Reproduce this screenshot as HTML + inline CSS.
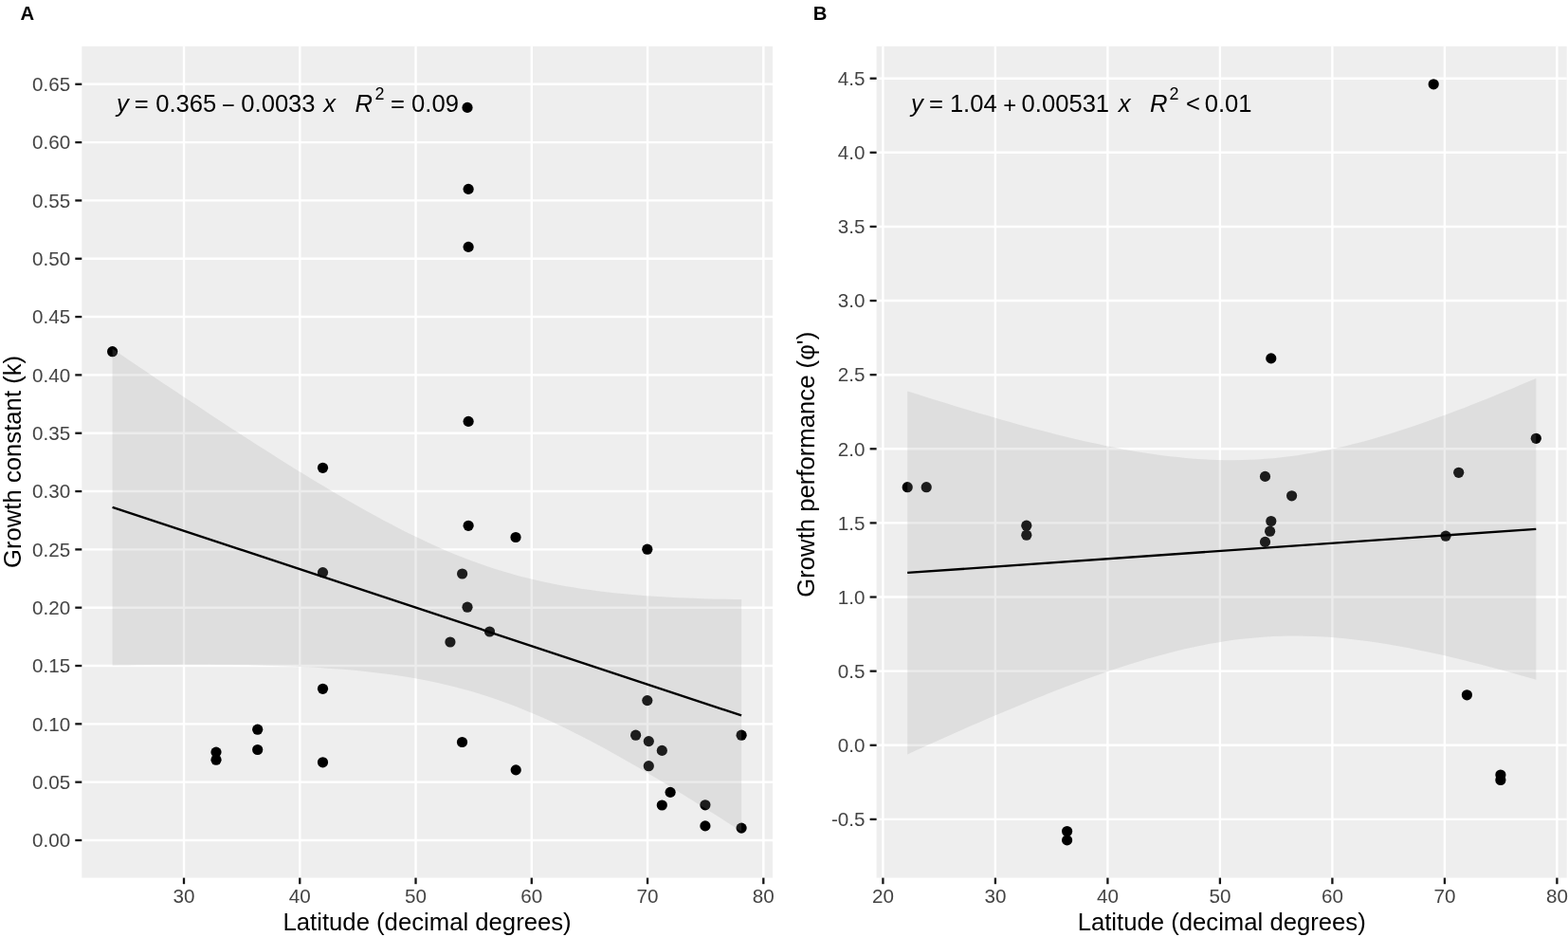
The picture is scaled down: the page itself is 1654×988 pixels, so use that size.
<!DOCTYPE html>
<html><head><meta charset="utf-8"><title>Growth vs latitude</title><style>html,body{margin:0;padding:0;background:#fff;overflow:hidden;}
svg{display:block;}
text{font-family:"Liberation Sans",Arial,sans-serif;}
.tk{font-size:20.6px;fill:#444444;}
.eq{font-size:25.6px;fill:#000;}
.sup{font-size:17.9px;fill:#000;}
.ti{font-size:25.7px;fill:#000;}
.lab{font-size:20.3px;font-weight:bold;fill:#000;}</style></head><body>
<svg width="1654" height="988" viewBox="0 0 1654 988">
<rect width="1654" height="988" fill="#fff"/>
<rect x="86.3" y="48.8" width="728.7" height="876.8" fill="#EEEEEE"/>
<line x1="86.3" x2="815.0" y1="886.00" y2="886.00" stroke="#fff" stroke-width="2.4"/>
<line x1="86.3" x2="815.0" y1="824.67" y2="824.67" stroke="#fff" stroke-width="2.4"/>
<line x1="86.3" x2="815.0" y1="763.35" y2="763.35" stroke="#fff" stroke-width="2.4"/>
<line x1="86.3" x2="815.0" y1="702.02" y2="702.02" stroke="#fff" stroke-width="2.4"/>
<line x1="86.3" x2="815.0" y1="640.70" y2="640.70" stroke="#fff" stroke-width="2.4"/>
<line x1="86.3" x2="815.0" y1="579.38" y2="579.38" stroke="#fff" stroke-width="2.4"/>
<line x1="86.3" x2="815.0" y1="518.05" y2="518.05" stroke="#fff" stroke-width="2.4"/>
<line x1="86.3" x2="815.0" y1="456.73" y2="456.73" stroke="#fff" stroke-width="2.4"/>
<line x1="86.3" x2="815.0" y1="395.40" y2="395.40" stroke="#fff" stroke-width="2.4"/>
<line x1="86.3" x2="815.0" y1="334.07" y2="334.07" stroke="#fff" stroke-width="2.4"/>
<line x1="86.3" x2="815.0" y1="272.75" y2="272.75" stroke="#fff" stroke-width="2.4"/>
<line x1="86.3" x2="815.0" y1="211.42" y2="211.42" stroke="#fff" stroke-width="2.4"/>
<line x1="86.3" x2="815.0" y1="150.10" y2="150.10" stroke="#fff" stroke-width="2.4"/>
<line x1="86.3" x2="815.0" y1="88.77" y2="88.77" stroke="#fff" stroke-width="2.4"/>
<line x1="194.00" x2="194.00" y1="48.8" y2="925.6" stroke="#fff" stroke-width="2.4"/>
<line x1="316.26" x2="316.26" y1="48.8" y2="925.6" stroke="#fff" stroke-width="2.4"/>
<line x1="438.52" x2="438.52" y1="48.8" y2="925.6" stroke="#fff" stroke-width="2.4"/>
<line x1="560.78" x2="560.78" y1="48.8" y2="925.6" stroke="#fff" stroke-width="2.4"/>
<line x1="683.04" x2="683.04" y1="48.8" y2="925.6" stroke="#fff" stroke-width="2.4"/>
<line x1="805.30" x2="805.30" y1="48.8" y2="925.6" stroke="#fff" stroke-width="2.4"/>
<circle cx="118.60" cy="370.70" r="5.6"/>
<circle cx="228.00" cy="793.10" r="5.6"/>
<circle cx="228.00" cy="801.20" r="5.6"/>
<circle cx="271.70" cy="769.20" r="5.6"/>
<circle cx="271.70" cy="790.50" r="5.6"/>
<circle cx="340.50" cy="493.30" r="5.6"/>
<circle cx="340.50" cy="603.60" r="5.6"/>
<circle cx="340.50" cy="726.30" r="5.6"/>
<circle cx="340.50" cy="803.80" r="5.6"/>
<circle cx="474.90" cy="677.00" r="5.6"/>
<circle cx="487.60" cy="605.00" r="5.6"/>
<circle cx="487.50" cy="782.50" r="5.6"/>
<circle cx="493.00" cy="113.40" r="5.6"/>
<circle cx="494.10" cy="199.40" r="5.6"/>
<circle cx="494.10" cy="260.40" r="5.6"/>
<circle cx="494.10" cy="444.40" r="5.6"/>
<circle cx="494.10" cy="554.30" r="5.6"/>
<circle cx="493.00" cy="640.20" r="5.6"/>
<circle cx="516.50" cy="666.00" r="5.6"/>
<circle cx="544.00" cy="566.50" r="5.6"/>
<circle cx="544.20" cy="811.90" r="5.6"/>
<circle cx="670.60" cy="775.20" r="5.6"/>
<circle cx="682.80" cy="579.20" r="5.6"/>
<circle cx="682.80" cy="738.60" r="5.6"/>
<circle cx="684.30" cy="781.60" r="5.6"/>
<circle cx="684.30" cy="807.70" r="5.6"/>
<circle cx="698.30" cy="791.40" r="5.6"/>
<circle cx="698.30" cy="849.00" r="5.6"/>
<circle cx="707.10" cy="835.40" r="5.6"/>
<circle cx="743.90" cy="848.80" r="5.6"/>
<circle cx="743.90" cy="870.90" r="5.6"/>
<circle cx="782.10" cy="775.20" r="5.6"/>
<circle cx="782.10" cy="873.10" r="5.6"/>
<polygon fill="#999999" fill-opacity="0.19" points="118.60,367.84 127.00,373.55 135.40,379.24 143.80,384.92 152.19,390.59 160.59,396.24 168.99,401.88 177.39,407.51 185.79,413.12 194.19,418.72 202.59,424.30 210.99,429.86 219.38,435.40 227.78,440.92 236.18,446.42 244.58,451.89 252.98,457.34 261.38,462.76 269.78,468.16 278.18,473.52 286.57,478.85 294.97,484.15 303.37,489.41 311.77,494.63 320.17,499.81 328.57,504.94 336.97,510.02 345.37,515.05 353.76,520.02 362.16,524.93 370.56,529.78 378.96,534.55 387.36,539.25 395.76,543.87 404.16,548.41 412.56,552.85 420.95,557.20 429.35,561.44 437.75,565.58 446.15,569.60 454.55,573.50 462.95,577.27 471.35,580.91 479.75,584.41 488.14,587.77 496.54,590.99 504.94,594.06 513.34,596.98 521.74,599.74 530.14,602.36 538.54,604.83 546.94,607.16 555.33,609.33 563.73,611.37 572.13,613.27 580.53,615.04 588.93,616.69 597.33,618.21 605.73,619.62 614.13,620.92 622.52,622.12 630.92,623.22 639.32,624.24 647.72,625.17 656.12,626.01 664.52,626.79 672.92,627.49 681.32,628.13 689.71,628.72 698.11,629.24 706.51,629.71 714.91,630.14 723.31,630.51 731.71,630.85 740.11,631.15 748.51,631.40 756.90,631.63 765.30,631.82 773.70,631.98 782.10,632.12 782.10,876.75 773.70,871.32 765.30,865.93 756.90,860.56 748.51,855.22 740.11,849.92 731.71,844.65 723.31,839.43 714.91,834.24 706.51,829.11 698.11,824.02 689.71,818.98 681.32,814.00 672.92,809.08 664.52,804.22 656.12,799.44 647.72,794.72 639.32,790.09 630.92,785.54 622.52,781.08 614.13,776.72 605.73,772.46 597.33,768.31 588.93,764.27 580.53,760.35 572.13,756.56 563.73,752.90 555.33,749.38 546.94,746.00 538.54,742.76 530.14,739.67 521.74,736.72 513.34,733.93 504.94,731.29 496.54,728.80 488.14,726.45 479.75,724.25 471.35,722.19 462.95,720.27 454.55,718.48 446.15,716.82 437.75,715.28 429.35,713.85 420.95,712.53 412.56,711.32 404.16,710.20 395.76,709.17 387.36,708.23 378.96,707.37 370.56,706.59 362.16,705.87 353.76,705.22 345.37,704.63 336.97,704.10 328.57,703.62 320.17,703.19 311.77,702.80 303.37,702.46 294.97,702.16 286.57,701.89 278.18,701.66 269.78,701.47 261.38,701.30 252.98,701.16 244.58,701.05 236.18,700.96 227.78,700.90 219.38,700.86 210.99,700.84 202.59,700.84 194.19,700.85 185.79,700.89 177.39,700.94 168.99,701.00 160.59,701.08 152.19,701.18 143.80,701.29 135.40,701.40 127.00,701.54 118.60,701.68"/>
<line x1="118.60" y1="534.76" x2="782.10" y2="754.44" stroke="#000" stroke-width="2.35"/>
<line x1="79.30" x2="86.3" y1="886.00" y2="886.00" stroke="#151515" stroke-width="2.3"/>
<text x="74.20" y="893.21" text-anchor="end" class="tk">0.00</text>
<line x1="79.30" x2="86.3" y1="824.67" y2="824.67" stroke="#151515" stroke-width="2.3"/>
<text x="74.20" y="831.88" text-anchor="end" class="tk">0.05</text>
<line x1="79.30" x2="86.3" y1="763.35" y2="763.35" stroke="#151515" stroke-width="2.3"/>
<text x="74.20" y="770.56" text-anchor="end" class="tk">0.10</text>
<line x1="79.30" x2="86.3" y1="702.02" y2="702.02" stroke="#151515" stroke-width="2.3"/>
<text x="74.20" y="709.24" text-anchor="end" class="tk">0.15</text>
<line x1="79.30" x2="86.3" y1="640.70" y2="640.70" stroke="#151515" stroke-width="2.3"/>
<text x="74.20" y="647.91" text-anchor="end" class="tk">0.20</text>
<line x1="79.30" x2="86.3" y1="579.38" y2="579.38" stroke="#151515" stroke-width="2.3"/>
<text x="74.20" y="586.59" text-anchor="end" class="tk">0.25</text>
<line x1="79.30" x2="86.3" y1="518.05" y2="518.05" stroke="#151515" stroke-width="2.3"/>
<text x="74.20" y="525.26" text-anchor="end" class="tk">0.30</text>
<line x1="79.30" x2="86.3" y1="456.73" y2="456.73" stroke="#151515" stroke-width="2.3"/>
<text x="74.20" y="463.94" text-anchor="end" class="tk">0.35</text>
<line x1="79.30" x2="86.3" y1="395.40" y2="395.40" stroke="#151515" stroke-width="2.3"/>
<text x="74.20" y="402.61" text-anchor="end" class="tk">0.40</text>
<line x1="79.30" x2="86.3" y1="334.07" y2="334.07" stroke="#151515" stroke-width="2.3"/>
<text x="74.20" y="341.28" text-anchor="end" class="tk">0.45</text>
<line x1="79.30" x2="86.3" y1="272.75" y2="272.75" stroke="#151515" stroke-width="2.3"/>
<text x="74.20" y="279.96" text-anchor="end" class="tk">0.50</text>
<line x1="79.30" x2="86.3" y1="211.42" y2="211.42" stroke="#151515" stroke-width="2.3"/>
<text x="74.20" y="218.63" text-anchor="end" class="tk">0.55</text>
<line x1="79.30" x2="86.3" y1="150.10" y2="150.10" stroke="#151515" stroke-width="2.3"/>
<text x="74.20" y="157.31" text-anchor="end" class="tk">0.60</text>
<line x1="79.30" x2="86.3" y1="88.77" y2="88.77" stroke="#151515" stroke-width="2.3"/>
<text x="74.20" y="95.98" text-anchor="end" class="tk">0.65</text>
<line x1="194.00" x2="194.00" y1="925.6" y2="932.20" stroke="#151515" stroke-width="2.3"/>
<text x="194.00" y="952.2" text-anchor="middle" class="tk">30</text>
<line x1="316.26" x2="316.26" y1="925.6" y2="932.20" stroke="#151515" stroke-width="2.3"/>
<text x="316.26" y="952.2" text-anchor="middle" class="tk">40</text>
<line x1="438.52" x2="438.52" y1="925.6" y2="932.20" stroke="#151515" stroke-width="2.3"/>
<text x="438.52" y="952.2" text-anchor="middle" class="tk">50</text>
<line x1="560.78" x2="560.78" y1="925.6" y2="932.20" stroke="#151515" stroke-width="2.3"/>
<text x="560.78" y="952.2" text-anchor="middle" class="tk">60</text>
<line x1="683.04" x2="683.04" y1="925.6" y2="932.20" stroke="#151515" stroke-width="2.3"/>
<text x="683.04" y="952.2" text-anchor="middle" class="tk">70</text>
<line x1="805.30" x2="805.30" y1="925.6" y2="932.20" stroke="#151515" stroke-width="2.3"/>
<text x="805.30" y="952.2" text-anchor="middle" class="tk">80</text>
<rect x="924.6" y="48.8" width="728.1" height="876.8" fill="#EEEEEE"/>
<line x1="924.6" x2="1652.7" y1="863.90" y2="863.90" stroke="#fff" stroke-width="2.4"/>
<line x1="924.6" x2="1652.7" y1="785.78" y2="785.78" stroke="#fff" stroke-width="2.4"/>
<line x1="924.6" x2="1652.7" y1="707.66" y2="707.66" stroke="#fff" stroke-width="2.4"/>
<line x1="924.6" x2="1652.7" y1="629.54" y2="629.54" stroke="#fff" stroke-width="2.4"/>
<line x1="924.6" x2="1652.7" y1="551.42" y2="551.42" stroke="#fff" stroke-width="2.4"/>
<line x1="924.6" x2="1652.7" y1="473.30" y2="473.30" stroke="#fff" stroke-width="2.4"/>
<line x1="924.6" x2="1652.7" y1="395.18" y2="395.18" stroke="#fff" stroke-width="2.4"/>
<line x1="924.6" x2="1652.7" y1="317.06" y2="317.06" stroke="#fff" stroke-width="2.4"/>
<line x1="924.6" x2="1652.7" y1="238.94" y2="238.94" stroke="#fff" stroke-width="2.4"/>
<line x1="924.6" x2="1652.7" y1="160.82" y2="160.82" stroke="#fff" stroke-width="2.4"/>
<line x1="924.6" x2="1652.7" y1="82.70" y2="82.70" stroke="#fff" stroke-width="2.4"/>
<line x1="931.40" x2="931.40" y1="48.8" y2="925.6" stroke="#fff" stroke-width="2.4"/>
<line x1="1049.90" x2="1049.90" y1="48.8" y2="925.6" stroke="#fff" stroke-width="2.4"/>
<line x1="1168.40" x2="1168.40" y1="48.8" y2="925.6" stroke="#fff" stroke-width="2.4"/>
<line x1="1286.90" x2="1286.90" y1="48.8" y2="925.6" stroke="#fff" stroke-width="2.4"/>
<line x1="1405.40" x2="1405.40" y1="48.8" y2="925.6" stroke="#fff" stroke-width="2.4"/>
<line x1="1523.90" x2="1523.90" y1="48.8" y2="925.6" stroke="#fff" stroke-width="2.4"/>
<line x1="1642.40" x2="1642.40" y1="48.8" y2="925.6" stroke="#fff" stroke-width="2.4"/>
<circle cx="957.20" cy="513.70" r="5.6"/>
<circle cx="977.20" cy="513.70" r="5.6"/>
<circle cx="1082.80" cy="554.20" r="5.6"/>
<circle cx="1082.80" cy="564.20" r="5.6"/>
<circle cx="1125.60" cy="876.50" r="5.6"/>
<circle cx="1125.60" cy="885.90" r="5.6"/>
<circle cx="1334.50" cy="502.40" r="5.6"/>
<circle cx="1334.50" cy="571.40" r="5.6"/>
<circle cx="1340.80" cy="377.90" r="5.6"/>
<circle cx="1340.80" cy="549.50" r="5.6"/>
<circle cx="1339.60" cy="560.20" r="5.6"/>
<circle cx="1362.60" cy="522.80" r="5.6"/>
<circle cx="1512.20" cy="88.80" r="5.6"/>
<circle cx="1525.00" cy="565.20" r="5.6"/>
<circle cx="1538.70" cy="498.30" r="5.6"/>
<circle cx="1547.40" cy="732.80" r="5.6"/>
<circle cx="1582.90" cy="817.00" r="5.6"/>
<circle cx="1582.90" cy="822.50" r="5.6"/>
<circle cx="1620.30" cy="462.30" r="5.6"/>
<polygon fill="#999999" fill-opacity="0.19" points="957.20,412.45 965.59,415.11 973.99,417.76 982.38,420.38 990.77,422.99 999.17,425.57 1007.56,428.13 1015.96,430.67 1024.35,433.18 1032.74,435.67 1041.14,438.12 1049.53,440.55 1057.92,442.94 1066.32,445.30 1074.71,447.63 1083.11,449.92 1091.50,452.16 1099.89,454.37 1108.29,456.53 1116.68,458.64 1125.07,460.70 1133.47,462.71 1141.86,464.66 1150.25,466.55 1158.65,468.37 1167.04,470.13 1175.44,471.81 1183.83,473.42 1192.22,474.94 1200.62,476.38 1209.01,477.73 1217.40,478.99 1225.80,480.14 1234.19,481.19 1242.58,482.12 1250.98,482.94 1259.37,483.64 1267.77,484.21 1276.16,484.66 1284.55,484.97 1292.95,485.14 1301.34,485.17 1309.73,485.06 1318.13,484.80 1326.52,484.39 1334.92,483.83 1343.31,483.13 1351.70,482.28 1360.10,481.28 1368.49,480.13 1376.88,478.85 1385.28,477.42 1393.67,475.86 1402.06,474.17 1410.46,472.35 1418.85,470.41 1427.25,468.35 1435.64,466.17 1444.03,463.89 1452.43,461.51 1460.82,459.03 1469.21,456.46 1477.61,453.80 1486.00,451.05 1494.39,448.23 1502.79,445.33 1511.18,442.37 1519.58,439.33 1527.97,436.24 1536.36,433.09 1544.76,429.88 1553.15,426.62 1561.54,423.31 1569.94,419.95 1578.33,416.56 1586.73,413.12 1595.12,409.64 1603.51,406.12 1611.91,402.57 1620.30,398.99 1620.30,716.68 1611.91,714.27 1603.51,711.89 1595.12,709.54 1586.73,707.23 1578.33,704.96 1569.94,702.72 1561.54,700.54 1553.15,698.39 1544.76,696.30 1536.36,694.26 1527.97,692.27 1519.58,690.34 1511.18,688.48 1502.79,686.68 1494.39,684.95 1486.00,683.29 1477.61,681.72 1469.21,680.22 1460.82,678.82 1452.43,677.50 1444.03,676.29 1435.64,675.17 1427.25,674.17 1418.85,673.28 1410.46,672.50 1402.06,671.85 1393.67,671.32 1385.28,670.93 1376.88,670.67 1368.49,670.55 1360.10,670.57 1351.70,670.74 1343.31,671.05 1334.92,671.52 1326.52,672.13 1318.13,672.89 1309.73,673.79 1301.34,674.85 1292.95,676.05 1284.55,677.38 1276.16,678.86 1267.77,680.47 1259.37,682.21 1250.98,684.08 1242.58,686.06 1234.19,688.17 1225.80,690.38 1217.40,692.70 1209.01,695.12 1200.62,697.64 1192.22,700.24 1183.83,702.93 1175.44,705.71 1167.04,708.56 1158.65,711.48 1150.25,714.47 1141.86,717.53 1133.47,720.65 1125.07,723.82 1116.68,727.05 1108.29,730.33 1099.89,733.65 1091.50,737.02 1083.11,740.44 1074.71,743.89 1066.32,747.39 1057.92,750.91 1049.53,754.47 1041.14,758.07 1032.74,761.69 1024.35,765.34 1015.96,769.02 1007.56,772.73 999.17,776.45 990.77,780.20 982.38,783.98 973.99,787.77 965.59,791.58 957.20,795.41"/>
<line x1="957.20" y1="603.93" x2="1620.30" y2="557.84" stroke="#000" stroke-width="2.35"/>
<line x1="917.60" x2="924.6" y1="863.90" y2="863.90" stroke="#151515" stroke-width="2.3"/>
<text x="912.50" y="871.11" text-anchor="end" class="tk">-0.5</text>
<line x1="917.60" x2="924.6" y1="785.78" y2="785.78" stroke="#151515" stroke-width="2.3"/>
<text x="912.50" y="792.99" text-anchor="end" class="tk">0.0</text>
<line x1="917.60" x2="924.6" y1="707.66" y2="707.66" stroke="#151515" stroke-width="2.3"/>
<text x="912.50" y="714.87" text-anchor="end" class="tk">0.5</text>
<line x1="917.60" x2="924.6" y1="629.54" y2="629.54" stroke="#151515" stroke-width="2.3"/>
<text x="912.50" y="636.75" text-anchor="end" class="tk">1.0</text>
<line x1="917.60" x2="924.6" y1="551.42" y2="551.42" stroke="#151515" stroke-width="2.3"/>
<text x="912.50" y="558.63" text-anchor="end" class="tk">1.5</text>
<line x1="917.60" x2="924.6" y1="473.30" y2="473.30" stroke="#151515" stroke-width="2.3"/>
<text x="912.50" y="480.51" text-anchor="end" class="tk">2.0</text>
<line x1="917.60" x2="924.6" y1="395.18" y2="395.18" stroke="#151515" stroke-width="2.3"/>
<text x="912.50" y="402.39" text-anchor="end" class="tk">2.5</text>
<line x1="917.60" x2="924.6" y1="317.06" y2="317.06" stroke="#151515" stroke-width="2.3"/>
<text x="912.50" y="324.27" text-anchor="end" class="tk">3.0</text>
<line x1="917.60" x2="924.6" y1="238.94" y2="238.94" stroke="#151515" stroke-width="2.3"/>
<text x="912.50" y="246.15" text-anchor="end" class="tk">3.5</text>
<line x1="917.60" x2="924.6" y1="160.82" y2="160.82" stroke="#151515" stroke-width="2.3"/>
<text x="912.50" y="168.03" text-anchor="end" class="tk">4.0</text>
<line x1="917.60" x2="924.6" y1="82.70" y2="82.70" stroke="#151515" stroke-width="2.3"/>
<text x="912.50" y="89.91" text-anchor="end" class="tk">4.5</text>
<line x1="931.40" x2="931.40" y1="925.6" y2="932.20" stroke="#151515" stroke-width="2.3"/>
<text x="931.40" y="952.2" text-anchor="middle" class="tk">20</text>
<line x1="1049.90" x2="1049.90" y1="925.6" y2="932.20" stroke="#151515" stroke-width="2.3"/>
<text x="1049.90" y="952.2" text-anchor="middle" class="tk">30</text>
<line x1="1168.40" x2="1168.40" y1="925.6" y2="932.20" stroke="#151515" stroke-width="2.3"/>
<text x="1168.40" y="952.2" text-anchor="middle" class="tk">40</text>
<line x1="1286.90" x2="1286.90" y1="925.6" y2="932.20" stroke="#151515" stroke-width="2.3"/>
<text x="1286.90" y="952.2" text-anchor="middle" class="tk">50</text>
<line x1="1405.40" x2="1405.40" y1="925.6" y2="932.20" stroke="#151515" stroke-width="2.3"/>
<text x="1405.40" y="952.2" text-anchor="middle" class="tk">60</text>
<line x1="1523.90" x2="1523.90" y1="925.6" y2="932.20" stroke="#151515" stroke-width="2.3"/>
<text x="1523.90" y="952.2" text-anchor="middle" class="tk">70</text>
<line x1="1642.40" x2="1642.40" y1="925.6" y2="932.20" stroke="#151515" stroke-width="2.3"/>
<text x="1642.40" y="952.2" text-anchor="middle" class="tk">80</text>
<g class="eqg">
<text x="123.0" y="118.3" class="eq" font-style="italic">y</text>
<text x="141.8" y="118.3" class="eq" >=</text>
<text x="164.2" y="118.3" class="eq" >0.365</text>
<text x="233.9"  class="eq" style="font-size:23.8px" y="118.8">−</text>
<text x="254.3" y="118.3" class="eq" >0.0033</text>
<text x="341.3" y="118.3" class="eq" font-style="italic">x</text>
<text x="374.5" y="118.3" class="eq" font-style="italic">R</text>
<text x="412.1" y="118.3" class="eq" >=</text>
<text x="434.1" y="118.3" class="eq" >0.09</text>
<text x="961.1" y="118.3" class="eq" font-style="italic">y</text>
<text x="980.0" y="118.3" class="eq" >=</text>
<text x="1001.9" y="118.3" class="eq" >1.04</text>
<text x="1058.3"  class="eq" style="font-size:23.8px" y="118.8">+</text>
<text x="1077.6" y="118.3" class="eq" >0.00531</text>
<text x="1179.8" y="118.3" class="eq" font-style="italic">x</text>
<text x="1213.0" y="118.3" class="eq" font-style="italic">R</text>
<text x="1251.1" y="118.3" class="eq" >&lt;</text>
<text x="1270.7" y="118.3" class="eq" >0.01</text>
<text x="395.4" y="105.3" class="sup">2</text>
<text x="1233.6" y="105.3" class="sup">2</text>
</g>
<text x="450.6" y="981.3" text-anchor="middle" class="ti">Latitude (decimal degrees)</text>
<text x="1288.7" y="981.3" text-anchor="middle" class="ti">Latitude (decimal degrees)</text>
<text transform="translate(21.6,599) rotate(-90)" x="0" y="0" class="ti">Growth constant (k)</text>
<text transform="translate(859.4,629.7) rotate(-90)" x="0" y="0" class="ti">Growth performance (φ')</text>
<text x="21.5" y="21.4" class="lab">A</text>
<text x="857.7" y="21.4" class="lab">B</text>
</svg>
</body></html>
